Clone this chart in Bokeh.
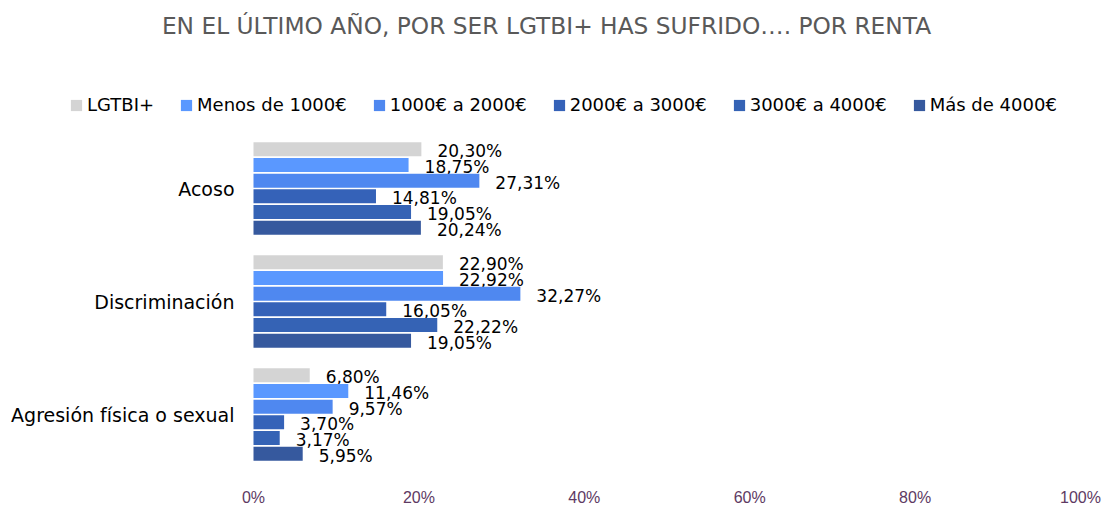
from bokeh.plotting import figure
from bokeh.models import Legend, LegendItem, FixedTicker, ColumnDataSource, Range1d, Label
from bokeh.transform import dodge
from bokeh.core.properties import value
from bokeh.embed import file_html
from bokeh.resources import INLINE

categories = ["Acoso", "Discriminación", "Agresión física o sexual"]
series_names = ["LGTBI+", "Menos de 1000€", "1000€ a 2000€", "2000€ a 3000€", "3000€ a 4000€", "Más de 4000€"]
lgtbi = [20.30, 22.90, 6.80]
menos_1000 = [18.75, 22.92, 11.46]
de_1000_2000 = [27.31, 32.27, 9.57]
de_2000_3000 = [14.81, 16.05, 3.70]
de_3000_4000 = [19.05, 22.22, 3.17]
mas_4000 = [20.24, 19.05, 5.95]
series_values = [lgtbi, menos_1000, de_1000_2000, de_2000_3000, de_3000_4000, mas_4000]
colors = ["#D4D4D4", "#5A98FF", "#4F88F0", "#3562B8", "#3563B5", "#36599E"]
x_ticks = [0, 20, 40, 60, 80, 100]
x_tick_labels = ["0%", "20%", "40%", "60%", "80%", "100%"]
title_text = "EN EL ÚLTIMO AÑO, POR SER LGTBI+ HAS SUFRIDO…. POR RENTA"

FONT = "DejaVu Sans"

# layout (pixels)
W, H = 1105, 508
PLOT_LEFT, PLOT_RIGHT = 253, 1080      # x = 0% and x = 100%
CAT_PX = 113.0                          # pixels per category
FIRST_CAT_Y = 188.0                     # centre of first category
FRAME_BOTTOM = 471
px_per_unit = (PLOT_RIGHT - PLOT_LEFT) / 100.0
x_start = -PLOT_LEFT / px_per_unit
x_end = 100 + (W - PLOT_RIGHT) / px_per_unit
y_top = -FIRST_CAT_Y / CAT_PX
y_bottom = (FRAME_BOTTOM - FIRST_CAT_Y) / CAT_PX

p = figure(width=W, height=H, output_backend="svg", toolbar_location=None,
           x_range=Range1d(x_start, x_end), y_range=Range1d(y_bottom, y_top),
           min_border_left=0, min_border_right=0, min_border_top=0,
           min_border_bottom=H - FRAME_BOTTOM)

cat_src = ColumnDataSource(dict(cat=categories, idx=list(range(len(categories))),
                                zero=[0] * len(categories)))

pitch = 0.1386
bar_h = 0.124
renderers = []
for i, (name, vals, col) in enumerate(zip(series_names, series_values, colors)):
    off = (i - 2.5) * pitch
    src = ColumnDataSource(dict(idx=list(range(len(categories))), val=vals,
                                lab=[("%.2f" % v).replace(".", ",") + "%" for v in vals]))
    r = p.hbar(y=dodge("idx", off), right="val", left=0, height=bar_h,
               source=src, fill_color=col, line_color=None)
    p.text(x="val", y=dodge("idx", off), text="lab", source=src,
           x_offset=16, y_offset=2, text_baseline="middle", text_align="left",
           text_font=value(FONT), text_font_size="17px", text_color="#000000")
    renderers.append((name, r))

# category labels
p.text(x="zero", y="idx", text="cat", source=cat_src, x_offset=-19,
       text_align="right", text_baseline="middle",
       text_font=value(FONT), text_font_size="19px", text_color="#000000")

# title
title_x = (546 - PLOT_LEFT) / px_per_unit
title_y = (25 - FIRST_CAT_Y) / CAT_PX
p.add_layout(Label(x=title_x, y=title_y, text=title_text, text_align="center",
                   text_baseline="middle", text_font=FONT, text_font_size="23.3px",
                   text_color="#595959"))

legend = Legend(items=[LegendItem(label=n, renderers=[r]) for n, r in renderers],
                orientation="horizontal", location=(69, FRAME_BOTTOM - 115),
                glyph_width=14, glyph_height=14, label_standoff=4, spacing=25,
                padding=0, margin=0, border_line_color=None, background_fill_alpha=0,
                label_text_font=FONT, label_text_font_size="18px", label_text_color="#000000")
p.add_layout(legend, "center")

p.xaxis.ticker = FixedTicker(ticks=x_ticks)
p.xaxis.major_label_overrides = {t: l for t, l in zip(x_ticks, x_tick_labels)}
p.xaxis.major_label_text_color = "#5E3A63"
p.xaxis.major_label_text_font = "Liberation Sans"
p.xaxis.major_label_text_font_size = "16px"
p.xaxis.major_label_standoff = 17
p.xaxis.major_tick_out = 0
p.xaxis.major_tick_in = 0
p.xaxis.axis_line_color = None
p.xaxis.major_tick_line_color = None
p.xaxis.minor_tick_line_color = None
p.yaxis.visible = False

p.xgrid.grid_line_color = None
p.ygrid.grid_line_color = None
p.outline_line_color = None

open("out.html", "w").write(file_html(p, INLINE))
